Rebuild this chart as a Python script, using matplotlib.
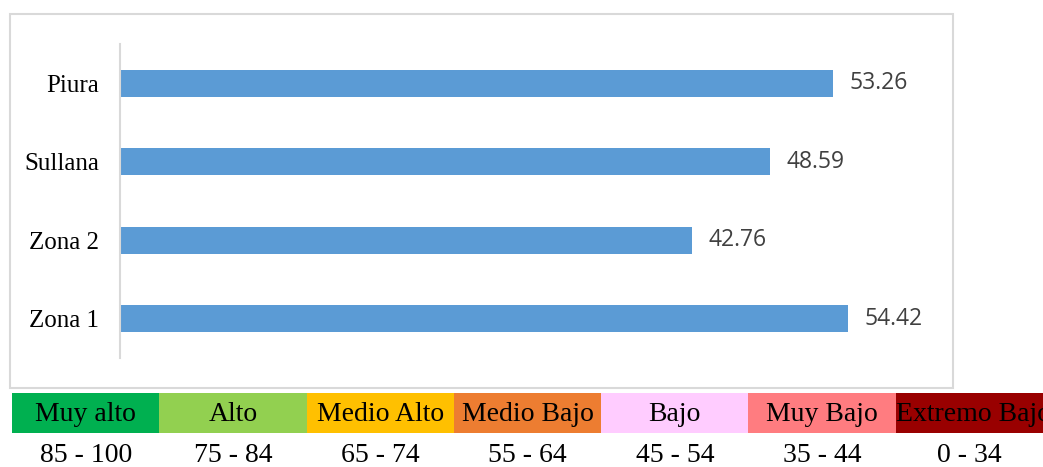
import matplotlib
matplotlib.use("Agg")
import matplotlib.pyplot as plt
from matplotlib.patches import Rectangle

# Data
zonas = ["Zona 1", "Zona 2", "Sullana", "Piura"]
valores = [54.42, 42.76, 48.59, 53.26]

niveles = ["Muy alto", "Alto", "Medio Alto", "Medio Bajo", "Bajo", "Muy Bajo", "Extremo Bajo"]
rangos = ["85 - 100", "75 - 84", "65 - 74", "55 - 64", "45 - 54", "35 - 44", "0 - 34"]
colores_niveles = ["#00B050", "#92D050", "#FFC000", "#ED7D31", "#FFCCFF", "#FF7C80", "#990000"]

W, H = 1043, 467
fig = plt.figure(figsize=(W / 100, H / 100), dpi=100)

# chart border
fig.patches.append(Rectangle((10 / W, (H - 388) / H), 943 / W, 374 / H,
                             transform=fig.transFigure, fill=False,
                             edgecolor="#D9D9D9", linewidth=1.5))

# Main bar chart
ax = fig.add_axes([120 / W, (H - 358) / H, 803 / W, 314 / H])
ypos = list(range(len(zonas)))
ax.barh(ypos, valores, height=0.34, color="#5B9BD5")
ax.set_xlim(0, 60)
ax.set_ylim(-0.5, len(zonas) - 0.5)
ax.set_yticks(ypos)
ax.set_yticklabels(zonas, fontfamily="Liberation Serif", fontsize=18)
ax.tick_params(axis="y", length=0, pad=15)
ax.set_xticks([])
for s in ["top", "right", "bottom"]:
    ax.spines[s].set_visible(False)
ax.spines["left"].set_color("#D9D9D9")
ax.spines["left"].set_linewidth(1.5)
for y, v in zip(ypos, valores):
    ax.annotate(f"{v:.2f}", xy=(v, y), xytext=(12, 0), textcoords="offset points",
                ha="left", va="center", fontsize=16.5, fontfamily="Open Sans",
                color="#404040")

# Legend table
lg = fig.add_axes([12 / W, (H - 433) / H, 1031 / W, 40 / H])
idx = list(range(len(niveles)))
lg.bar(idx, [1] * len(niveles), width=1.0, color=colores_niveles, align="edge")
lg.set_xlim(0, len(niveles))
lg.set_ylim(0, 1)
lg.axis("off")
for i, (n, r) in enumerate(zip(niveles, rangos)):
    if i == len(niveles) - 1:
        # last label overflows its cell, so it starts at the cell edge
        lg.text(i + 0.005, 0.46, n, ha="left", va="center", fontsize=20,
                fontfamily="Liberation Serif", color="black", clip_on=False)
    else:
        lg.text(i + 0.5, 0.46, n, ha="center", va="center", fontsize=20,
                fontfamily="Liberation Serif", color="black", clip_on=False)
    lg.text(i + 0.5, -0.57, r, ha="center", va="center", fontsize=20,
            fontfamily="Liberation Serif", color="black", clip_on=False)

fig.savefig("out.png", dpi=100)
